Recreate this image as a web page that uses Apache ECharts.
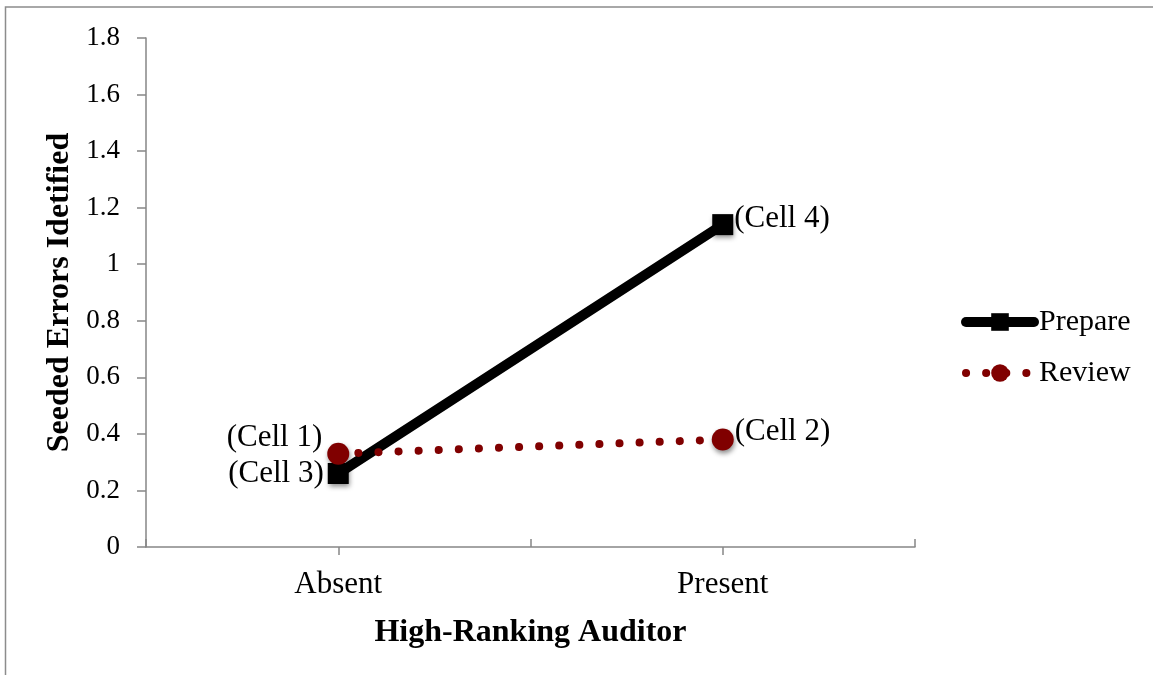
<!DOCTYPE html>
<html><head><meta charset="utf-8">
<script src="https://cdn.jsdelivr.net/npm/echarts@6/dist/echarts.min.js"></script>
<style>html,body{margin:0;padding:0;background:#fff}#c{width:1153px;height:675px}</style>
</head><body><div id="c"></div>
<script>
const categories = ['Absent', 'Present'];
const prepareValues = [0.26, 1.14];
const reviewValues = [0.33, 0.38];
const prepareLabels = ['(Cell 3)', '(Cell 4)'];
const reviewLabels = ['(Cell 1)', '(Cell 2)'];
const seriesNames = ['Prepare', 'Review'];
const yTitle = 'Seeded Errors Idetified';
const xTitle = 'High-Ranking Auditor';

const FONT = '"Liberation Serif", "DejaVu Serif", serif';
const AX = '#868686';
const RED = '#800000';
const chart = echarts.init(document.getElementById('c'), null, {renderer: 'canvas'});
const shadow = {shadowBlur: 5, shadowOffsetX: 1, shadowOffsetY: 3, shadowColor: 'rgba(0,0,0,0.45)'};
const lbl = {color: '#000', fontFamily: FONT, fontSize: 31};
const prepLine = {color: '#000', width: 10, cap: 'round'};
const revLine = {color: RED, width: 8, type: [0.1, 20], cap: 'round'};

chart.setOption({
  animation: false,
  backgroundColor: '#fff',
  graphic: [{type: 'rect', shape: {x: 5.5, y: 7, width: 1200, height: 720}, style: {fill: 'none', stroke: '#8c8c8c', lineWidth: 1.5}, silent: true, z: -1}],
  grid: {left: 146, right: 238, top: 38, bottom: 128},
  legend: {
    orient: 'vertical', left: 956, top: 302, itemWidth: 68, itemHeight: 22, itemGap: 21,
    textStyle: {fontFamily: FONT, fontSize: 30, color: '#000'},
    data: [
      {name: seriesNames[0], lineStyle: prepLine},
      {name: seriesNames[1], lineStyle: revLine}
    ]
  },
  xAxis: [{
    type: 'category', data: categories, boundaryGap: true, position: 'bottom',
    axisLine: {show: true, lineStyle: {color: AX, width: 1.5}},
    axisTick: {show: true, alignWithLabel: true, length: 8, lineStyle: {color: AX, width: 1.5}},
    axisLabel: {fontFamily: FONT, fontSize: 31, color: '#000', margin: 22},
    name: xTitle, nameLocation: 'middle', nameGap: 70,
    nameTextStyle: {fontFamily: FONT, fontSize: 32, fontWeight: 'bold', color: '#000', verticalAlign: 'top'}
  }, {
    type: 'category', data: categories, boundaryGap: true, position: 'bottom',
    axisLine: {show: false},
    axisTick: {show: true, inside: true, length: 8, lineStyle: {color: AX, width: 1.5}},
    axisLabel: {show: false}
  }],
  yAxis: {
    type: 'value', min: 0, max: 1.8, interval: 0.2,
    axisLine: {show: true, lineStyle: {color: AX, width: 1.5}},
    axisTick: {show: true, length: 9, lineStyle: {color: AX, width: 1.5}},
    splitLine: {show: false},
    axisLabel: {fontFamily: FONT, fontSize: 27, color: '#000', margin: 26},
    name: yTitle, nameLocation: 'middle', nameGap: 65, nameRotate: 90,
    nameTextStyle: {fontFamily: FONT, fontSize: 32, fontWeight: 'bold', color: '#000'}
  },
  series: [{
    name: seriesNames[0], type: 'line', xAxisIndex: 0,
    symbol: 'rect', symbolSize: 21, z: 3,
    lineStyle: prepLine,
    itemStyle: Object.assign({color: '#000'}, shadow),
    data: prepareValues.map((v, i) => ({
      value: v,
      label: Object.assign({show: true, formatter: prepareLabels[i],
        position: i === 0 ? 'left' : 'right', distance: i === 0 ? 4 : 1,
        offset: i === 0 ? [0, 0] : [0, -6]}, lbl)
    }))
  }, {
    name: seriesNames[1], type: 'line', xAxisIndex: 0,
    symbol: 'circle', symbolSize: 22, z: 4,
    lineStyle: revLine,
    itemStyle: Object.assign({color: RED}, shadow),
    data: reviewValues.map((v, i) => ({
      value: v,
      label: Object.assign({show: true, formatter: reviewLabels[i],
        position: i === 0 ? 'left' : 'right', distance: i === 0 ? 5 : 1,
        offset: i === 0 ? [0, -16] : [0, -8]}, lbl)
    }))
  }]
});
</script></body></html>
